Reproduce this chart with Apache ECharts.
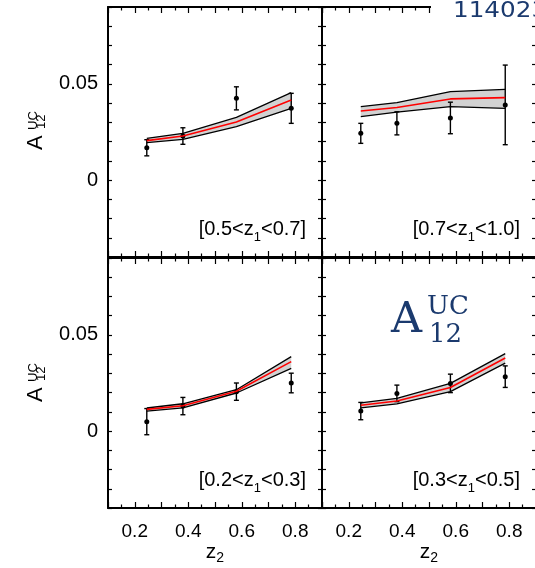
<!DOCTYPE html>
<html>
<head>
<meta charset="utf-8">
<script src="https://cdn.jsdelivr.net/npm/echarts@6/dist/echarts.min.js"></script>
<style>
  html, body { margin: 0; padding: 0; background: #fff; }
  #chart { width: 535px; height: 568px; }
</style>
</head>
<body>
<div id="chart"></div>
<script>
'use strict';
// A12^UC vs z2, four z1 bins. Points = data with errors, band = model (lo/mid/hi).
const z2 = [0.245, 0.38, 0.58, 0.785];

// [0.5<z1<0.7]  (top left)
const pts1 = [0.0168, 0.0229, 0.0425, 0.0373];
const err1 = [0.0042, 0.0043, 0.0060, 0.0078];
const lo1 = [0.0195, 0.0212, 0.0278, 0.0373];
const mid1 = [0.0205, 0.0229, 0.0302, 0.0417];
const hi1 = [0.0217, 0.0243, 0.0326, 0.0455];

// [0.7<z1<1.0]  (top right)
const pts2 = [0.0243, 0.0295, 0.0323, 0.0391];
const err2 = [0.0052, 0.0060, 0.0082, 0.0207];
const lo2 = [0.0330, 0.0353, 0.0382, 0.0373];
const mid2 = [0.0359, 0.0377, 0.0422, 0.0429];
const hi2 = [0.0382, 0.0403, 0.0460, 0.0472];

// [0.2<z1<0.3]  (bottom left)
const pts3 = [0.0049, 0.0130, 0.0205, 0.0250];
const err3 = [0.0068, 0.0045, 0.0045, 0.0051];
const lo3 = [0.0104, 0.0121, 0.0198, 0.0326];
const mid3 = [0.0113, 0.0132, 0.0207, 0.0361];
const hi3 = [0.0120, 0.0142, 0.0215, 0.0387];

// [0.3<z1<0.5]  (bottom right)
const pts4 = [0.0104, 0.0196, 0.0248, 0.0283];
const err4 = [0.0045, 0.0043, 0.0048, 0.0056];
const lo4 = [0.0121, 0.0141, 0.0205, 0.0353];
const mid4 = [0.0134, 0.0156, 0.0227, 0.0380];
const hi4 = [0.0147, 0.0170, 0.0248, 0.0403];

const binLabels = [['0.5', '0.7'], ['0.7', '1.0'], ['0.2', '0.3'], ['0.3', '0.5']];
const xTickLabels = ['0.2', '0.4', '0.6', '0.8'];
const yTickLabels = ['0', '0.05'];

const panels = [
  { pts: pts1, err: err1, lo: lo1, mid: mid1, hi: hi1 },
  { pts: pts2, err: err2, lo: lo2, mid: mid2, hi: hi2 },
  { pts: pts3, err: err3, lo: lo3, mid: mid3, hi: hi3 },
  { pts: pts4, err: err4, lo: lo4, mid: mid4, hi: hi4 },
];

const FONT = '"Liberation Sans", Arial, Helvetica, sans-serif';
const SERIF = '"DejaVu Serif", "Liberation Serif", serif';
const NAVY = '#1b3a6e';
const grids = [
  { left: 108, top: 7, width: 214, height: 250 },
  { left: 322, top: 7, width: 214, height: 250 },
  { left: 108, top: 258, width: 214, height: 250 },
  { left: 322, top: 258, width: 214, height: 250 },
].map((g) => Object.assign(g, { outerBoundsMode: 'none' }));

const near = (v, s) => Math.abs(v - parseFloat(s)) < 1e-6;
const frameLine = { show: true, onZero: false, lineStyle: { color: '#000', width: 2 } };
const tickStyle = { color: '#000', width: 1.2 };
// negative lengths turn the ticks inward on every side of the frame
function xAx(i, pos) {
  const showLab = pos === 'bottom' && i >= 2;
  return {
    type: 'value', gridIndex: i, position: pos, min: 0.1, max: 0.9, interval: 0.1,
    axisLine: frameLine,
    axisTick: { show: true, length: -6, lineStyle: tickStyle },
    minorTick: { show: true, splitNumber: 2, length: -3.5, lineStyle: tickStyle },
    splitLine: { show: false }, minorSplitLine: { show: false },
    axisLabel: {
      show: showLab, margin: 14, fontSize: 19, color: '#000', fontFamily: FONT,
      showMinLabel: false, showMaxLabel: false,
      formatter: (v) => xTickLabels.find((s) => near(v, s)) || '',
    },
    name: showLab ? '{m|z}{s|2}' : '', nameLocation: 'middle', nameGap: 31,
    nameTextStyle: {
      rich: {
        m: { fontSize: 21, lineHeight: 26, verticalAlign: 'middle', color: '#000', fontFamily: FONT },
        s: { fontSize: 14, lineHeight: 14, verticalAlign: 'bottom', color: '#000', fontFamily: FONT },
      },
    },
  };
}
function yAx(i, pos) {
  const showLab = pos === 'left' && (i === 0 || i === 2);
  return {
    type: 'value', gridIndex: i, position: pos, min: -0.04, max: 0.09, interval: 0.01,
    axisLine: frameLine,
    axisTick: { show: true, length: -4, lineStyle: tickStyle },
    splitLine: { show: false },
    axisLabel: {
      show: showLab, margin: 10, fontSize: 20, color: '#000', fontFamily: FONT,
      formatter: (v) => yTickLabels.find((s) => near(v, s)) || '',
    },
  };
}

function errItem(params, api) {
  const x = api.value(0), y = api.value(1), e = api.value(2);
  const t = api.coord([x, y + e]), b = api.coord([x, y - e]);
  const w = 2.5, st = { stroke: '#000', lineWidth: 1.4 };
  return {
    type: 'group', children: [
      { type: 'line', shape: { x1: t[0], y1: t[1], x2: b[0], y2: b[1] }, style: st },
      { type: 'line', shape: { x1: t[0] - w, y1: t[1], x2: t[0] + w, y2: t[1] }, style: st },
      { type: 'line', shape: { x1: b[0] - w, y1: b[1], x2: b[0] + w, y2: b[1] }, style: st },
    ],
  };
}
// grey model band: one polygon, hi edge forward then lo edge back
const bandItem = (p) => (params, api) => {
  if (params.dataIndex !== 0) return null;
  const up = z2.map((x, k) => api.coord([x, p.hi[k]]));
  const dn = z2.map((x, k) => api.coord([x, p.lo[k]])).reverse();
  return { type: 'polygon', shape: { points: up.concat(dn) }, style: { fill: '#d2d2d2' } };
};

const series = [];
panels.forEach((p, i) => {
  const ax = { xAxisIndex: i, yAxisIndex: i };
  series.push({ type: 'custom', ...ax, silent: true, renderItem: bandItem(p),
    encode: { x: 0, y: [1, 2] }, data: z2.map((x, k) => [x, p.lo[k], p.hi[k]]) });
  series.push({ type: 'line', ...ax, symbol: 'none', silent: true,
    data: z2.map((x, k) => [x, p.lo[k]]), lineStyle: { color: '#000', width: 1.3 } });
  series.push({ type: 'line', ...ax, symbol: 'none', silent: true,
    data: z2.map((x, k) => [x, p.hi[k]]), lineStyle: { color: '#000', width: 1.3 } });
  series.push({ type: 'line', ...ax, symbol: 'none', silent: true,
    data: z2.map((x, k) => [x, p.mid[k]]), lineStyle: { color: '#ff0000', width: 1.6 } });
  series.push({ type: 'custom', ...ax, renderItem: errItem, silent: true,
    encode: { x: 0, y: 1 }, data: z2.map((x, k) => [x, p.pts[k], p.err[k]]) });
  series.push({ type: 'scatter', ...ax, symbol: 'circle', symbolSize: 5, silent: true,
    itemStyle: { color: '#000', opacity: 1 }, data: z2.map((x, k) => [x, p.pts[k]]) });
});

// "[a<z1<b]" tag in the lower right of each panel
const richTag = {
  a: { fontSize: 20, lineHeight: 30, verticalAlign: 'middle', fill: '#000', fontFamily: FONT },
  b: { fontSize: 13, lineHeight: 13, verticalAlign: 'bottom', fill: '#000', fontFamily: FONT },
};
const tags = binLabels.map(([a, b], i) => ({
  type: 'text', z: 50,
  x: grids[i].left + 198, y: grids[i].top + 237,
  style: { text: `{a|[${a}<z}{b|1}{a|<${b}]}`, rich: richTag, align: 'right', verticalAlign: 'bottom' },
}));

// text placed by its baseline (bottom of box sits one descent below it)
const txt = (x, base, text, size, family, fill, extra) => Object.assign({
  type: 'text', x: x, y: base + size * 0.22,
  style: { text: text, fontSize: size, fontFamily: family, fill: fill, verticalAlign: 'bottom' },
}, extra || {});

// rotated y-axis title A_12^UC
const yTitle = (yb) => ({
  type: 'group', x: 42, y: yb, rotation: Math.PI / 2, z: 50,
  children: [
    txt(0, 0, 'A', 22, FONT, '#000'),
    txt(20, -5, 'UC', 13, FONT, '#000'),
    txt(21, 3, '12', 13, FONT, '#000'),
  ],
});

const overlays = [
  { type: 'rect', x: 431, y: 0, shape: { width: 110, height: 22 }, style: { fill: '#fff' }, z: 90 },
  txt(453, 17, '114023', 22, '"DejaVu Sans", sans-serif', NAVY, { scaleX: 1.12, z: 91 }),
  txt(391, 333, 'A', 43, SERIF, NAVY, { z: 91 }),
  txt(427, 315, 'UC', 26, SERIF, NAVY, { z: 91 }),
  txt(429, 343, '12', 26, SERIF, NAVY, { z: 91 }),
];

const chart = echarts.init(document.getElementById('chart'), null, { renderer: 'canvas' });
chart.setOption({
  animation: false,
  backgroundColor: '#fff',
  grid: grids,
  xAxis: [0, 1, 2, 3].map((i) => xAx(i, 'bottom')).concat([0, 1, 2, 3].map((i) => xAx(i, 'top'))),
  yAxis: [0, 1, 2, 3].map((i) => yAx(i, 'left')).concat([0, 1, 2, 3].map((i) => yAx(i, 'right'))),
  series: series,
  graphic: tags.concat([yTitle(150), yTitle(402)], overlays),
});
</script>
</body>
</html>
